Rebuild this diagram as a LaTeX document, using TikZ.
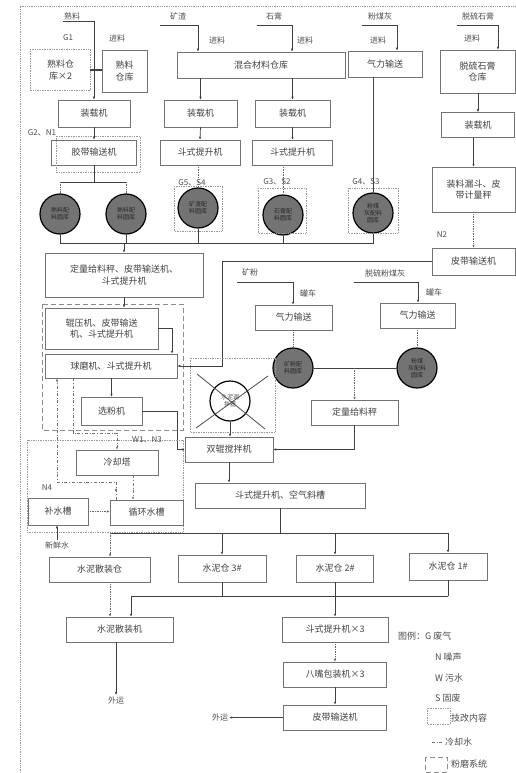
\documentclass[tikz,border=0pt]{standalone}
\usepackage{fontspec}
\setmainfont{Noto Sans CJK SC}
\usetikzlibrary{arrows.meta}

\begin{document}
\begin{tikzpicture}[x=1pt,y=-1pt,
    box/.style={draw=black!55,line width=0.5pt,align=center,inner sep=1pt,
        font=\fontsize{9}{11.5}\selectfont,text=black!75},
    newbox/.style={draw=black!40,densely dotted,line width=0.7pt},
    grind/.style={draw=black!45,dash pattern=on 5pt off 3pt,line width=0.8pt},
    silo/.style={circle,draw=black,line width=1.2pt,fill=black!55,minimum size=40,
        inner sep=0pt,align=center,font=\fontsize{6}{7}\selectfont,text=black!85},
    lbl/.style={font=\fontsize{8}{10}\selectfont,text=black!70,inner sep=1pt},
    flow/.style={draw=black!75,line width=0.7pt},
    arr/.style={flow,-{Latex[length=3pt,width=2.5pt]}},
    dflow/.style={draw=black!60,densely dotted,line width=0.7pt},
    darr/.style={dflow,-{Latex[length=3pt,width=2.5pt]}},
    water/.style={draw=black!55,dash dot,line width=0.6pt},
    warr/.style={water,-{Latex[length=3pt,width=2.5pt]}}]
    \useasboundingbox (0,0) rectangle (516,773);
    \draw[draw=black!40,densely dotted,line width=0.8pt] (20,773) -- (20,6) -- (516,6);

    % raw materials
    \node[box,minimum width=59,minimum height=41,draw=none] (ckA) at (60.5,70) {熟料仓\\库×2};
    \node[box,minimum width=45,minimum height=42] (ckB) at (124.5,71) {熟料\\仓库};
    \node[box,minimum width=168,minimum height=26] (mix) at (261,65) {混合材料仓库};
    \node[box,minimum width=74,minimum height=26] (gas1) at (385,64) {气力输送};
    \node[box,minimum width=75,minimum height=43] (tlsg) at (477.5,71.5) {脱硫石膏\\仓库};
    \draw[newbox] (ckA.south west) rectangle (ckA.north east);

    \node[lbl] (shl) at (72,16) {熟料};
    \node[lbl] (kz) at (178,16) {矿渣};
    \node[lbl] (sg) at (274,16) {石膏};
    \node[lbl] (fmh) at (380,16) {粉煤灰};
    \node[lbl] (tl) at (478,16) {脱硫石膏};
    \node[lbl] at (68,38) {G1};
    \node[lbl] at (117,38) {进料};
    \node[lbl] at (217,40) {进料};
    \node[lbl] at (305,40) {进料};
    \node[lbl] at (378,40) {进料};
    \node[lbl] at (472,38) {进料};
    \coordinate (kzA) at (160,25);
    \coordinate (kzB) at (198,25);
    \coordinate (sgA) at (257,25);
    \coordinate (sgB) at (292,25);
    \coordinate (fmA) at (362,25);
    \coordinate (fmB) at (397,25);
    \coordinate (tlA) at (457,25);
    \coordinate (tlB) at (498,25);

    \node[box,minimum width=72,minimum height=27] (ld1) at (94,113.5) {装载机};
    \node[box,minimum width=73,minimum height=27] (ld2) at (200.5,113.5) {装载机};
    \node[box,minimum width=75,minimum height=27] (ld3) at (292.5,113.5) {装载机};
    \node[box,minimum width=73,minimum height=25] (ld4) at (478,125) {装载机};

    \draw[arr] (shl.south west) -- (shl.south west -| ld1.north) -- (ld1.north);
    \draw[flow,line width=1.2pt] (ckA.east) -- (ckA.east -| ckB.west);
    \draw[arr] (kzA) -- (kzB) -- (kzB |- mix.north);
    \draw[arr] (sgA) -- (sgB) -- (sgB |- mix.north);
    \draw[arr] (fmA) -- (fmB) -- (fmB |- gas1.north);
    \draw[arr] (tlA) -- (tlB) -- (tlB |- tlsg.north);
    \draw[arr] (mix.south -| ld2.north) -- (ld2.north);
    \draw[arr] (mix.south -| ld3.north) -- (ld3.north);
    \draw[arr] (tlsg.south -| ld4.north) -- (ld4.north);

    \node[box,minimum width=85,minimum height=25] (bc) at (94,152.5) {胶带输送机};
    \node[box,minimum width=80,minimum height=25] (el1) at (200,152.5) {斗式提升机};
    \node[box,minimum width=80,minimum height=25] (el2) at (292.5,152.5) {斗式提升机};
    \node[box,minimum width=83,minimum height=45] (hop) at (473.5,189.5) {装料漏斗、皮\\带计量秤};
    \node[box,minimum width=83,minimum height=27] (bc2) at (473.5,261.5) {皮带输送机};
    \node[lbl] at (42,133) {G2、N1};
    \node[lbl] at (442,235) {N2};
    \draw[newbox] (56,136) rectangle (140,172);

    \draw[arr] (ld1.south) -- (bc.north);
    \draw[arr] (ld2.south) -- (el1.north);
    \draw[arr] (ld3.south) -- (el2.north);
    \draw[arr] (ld4.south -| hop.north) -- (hop.north);
    \draw[darr] (hop.south) -- (bc2.north);

    % batching silos
    \node[silo] (c1) at (60,214) {熟料配\\料圆库};
    \node[silo] (c2) at (126,214) {熟料配\\料圆库};
    \node[silo] (c3) at (198,208) {矿渣配\\料圆库};
    \node[silo] (c4) at (283,215) {石膏配\\料圆库};
    \node[silo] (c5) at (373,213) {粉煤\\灰配料\\圆库};
    \node[lbl] at (192,183) {G5、S4};
    \node[lbl] at (277,182) {G3、S2};
    \node[lbl] at (366,182) {G4、S3};
    \draw[newbox] (174,186) rectangle (222,231);
    \draw[newbox] (258,188) rectangle (306,233);
    \draw[newbox] (348,188) rectangle (398,233);

    \coordinate (j1) at (94,182);
    \draw[flow] (bc.south) -- (j1);
    \draw[flow] (c1.north |- j1) -- (c2.north |- j1);
    \draw[dflow] (c1.north |- j1) -- (c1.north);
    \draw[dflow] (c2.north |- j1) -- (c2.north);
    \draw[dflow] (el1.south -| c3.north) -- (c3.north);
    \draw[dflow] (el2.south -| c4.north) -- (c4.north);
    \draw[flow] (gas1.south -| c5.north) -- (c5.north);

    \node[box,minimum width=158,minimum height=44] (feed) at (124,275) {定量给料秤、皮带输送机、\\斗式提升机};
    \coordinate (j2) at (124,243);
    \draw[flow] (c1.south) -- (c1.south |- j2) -- (c5.south |- j2) -- (c5.south);
    \draw[flow] (c2.south) -- (c2.south |- j2);
    \draw[flow] (c3.south) -- (c3.south |- j2);
    \draw[flow] (c4.south) -- (c4.south |- j2);
    \draw[arr] (j2) -- (feed.north);

    % grinding system
    \draw[grind] (42,304) rectangle (183,430);
    \node[box,minimum width=113,minimum height=41] (roll) at (101.5,328.5) {辊压机、皮带输送\\机、斗式提升机};
    \node[box,minimum width=132,minimum height=24] (ball) at (111,366) {球磨机、斗式提升机};
    \node[box,minimum width=61,minimum height=28] (sep) at (111.5,411) {选粉机};
    \coordinate (j4) at (172,330);
    \coordinate (j3) at (222,262);
    \draw[arr] (feed.south) -- (feed.south |- roll.north);
    \draw[arr] (roll.east) -| (j4 |- ball.north);
    \draw[arr] (bc2.west) -- (bc2.west -| j3) -- (j3 |- ball.east) -- (ball.east);
    \draw[arr] (ball.south -| sep.north) -- (sep.north);

    % mineral powder / fly ash
    \node[lbl] (kf) at (250,272) {矿粉};
    \node[lbl] (gt1) at (308,293) {罐车};
    \node[lbl] (fh) at (385,273) {脱硫粉煤灰};
    \node[lbl] (gt2) at (434,292) {罐车};
    \coordinate (kfA) at (237,282);
    \coordinate (kfB) at (293,282);
    \coordinate (fhA) at (354,282);
    \coordinate (fhB) at (418,282);
    \node[box,minimum width=77,minimum height=25] (gas2) at (293.5,317.5) {气力输送};
    \node[box,minimum width=75,minimum height=25] (gas3) at (417.5,315.5) {气力输送};
    \node[silo] (c6) at (293,368) {矿粉配\\料圆库};
    \node[silo] (c7) at (417,368) {粉煤\\灰配料\\圆库};
    \node[box,minimum width=87,minimum height=25] (qf) at (354.5,412.5) {定量给料秤};
    \draw[arr] (kfA) -- (kfB) -- (kfB |- gas2.north);
    \draw[arr] (fhA) -- (fhB) -- (fhB |- gas3.north);
    \draw[dflow] (gas2.south -| c6.north) -- (c6.north);
    \draw[dflow] (gas3.south -| c7.north) -- (c7.north);
    \draw[flow] (c6.east) -- (c7.west);
    \draw[darr] (c6.east -| qf.north) -- (qf.north);

    % removed mixer
    \draw[newbox] (190,358) rectangle (275,432);
    \node[circle,draw=black,line width=1.2pt,minimum size=40,inner sep=0pt,align=center,
        font=\fontsize{6}{7}\selectfont,text=black!70] (xc) at (230,401) {水泥调\\拌器};
    \draw[black!70,line width=0.8pt] (197,374) -- (265,429);
    \draw[black!70,line width=0.8pt] (196,428) -- (268,376);

    \node[box,minimum width=88,minimum height=25] (mixer) at (229,449.5) {双辊搅拌机};
    \node[box,minimum width=170,minimum height=25] (elas) at (280,495.5) {斗式提升机、空气斜槽};
    \draw[arr] (xc.south) -- (xc.south |- mixer.north);
    \draw[arr] (sep.east) -- ++(35,0) |- (mixer.west);
    \draw[arr] (qf.south) |- (mixer.east);
    \draw[arr] (mixer.south) -- (mixer.south |- elas.north);

    % cooling water
    \draw[newbox] (27,440) rectangle (183,532);
    \node[lbl] at (147,440) {W1、N3};
    \node[lbl] at (47,488) {N4};
    \node[box,minimum width=82,minimum height=25] (cool) at (117,462.5) {冷却塔};
    \node[box,minimum width=60,minimum height=27] (bs) at (58,511.5) {补水槽};
    \node[box,minimum width=73,minimum height=25] (xs) at (146.5,512.5) {循环水槽};
    \node[lbl] (fw) at (57,545) {新鲜水};
    \coordinate (w1) at (73,433);
    \coordinate (w2) at (57,482);
    \coordinate (w3) at (116,482);
    \draw[warr] (ball.south -| w1) -- (w1) -| (cool.north);
    \draw[warr] ([xshift=16pt]cool.south) -- ([xshift=16pt]cool.south |- xs.north);
    \draw[warr] (w3 |- xs.north) -- (w3) -- (w2) -- (w2 |- ball.south);
    \draw[warr] (w3 |- xs.north) -- ++(0,-12);
    \draw[darr] (bs.east) -- (bs.east -| xs.west);
    \draw[arr] (fw.north) -- (fw.north |- bs.south);

    % cement silos
    \node[box,minimum width=101,minimum height=25] (s0) at (99.5,569.5) {水泥散装仓};
    \node[box,minimum width=88,minimum height=27] (s3) at (222,568.5) {水泥仓 3\#};
    \node[box,minimum width=77,minimum height=27] (s2) at (335,568.5) {水泥仓 2\#};
    \node[box,minimum width=78,minimum height=27] (s1) at (448,566.5) {水泥仓 1\#};
    \coordinate (d0) at (110,533);
    \coordinate (k0) at (131,596);
    \draw[flow] (elas.south) -- (elas.south |- d0);
    \draw[flow] (d0) -- (d0 -| s1.north);
    \draw[darr] (d0) -- (d0 |- s0.north);
    \draw[arr] (d0 -| s3.north) -- (s3.north);
    \draw[arr] (d0 -| s2.north) -- (s2.north);
    \draw[arr] (d0 -| s1.north) -- (s1.north);

    \node[box,minimum width=107,minimum height=25] (bulk) at (119.5,629.5) {水泥散装机};
    \node[box,minimum width=106,minimum height=25] (el3) at (335,629.5) {斗式提升机×3};
    \node[box,minimum width=103,minimum height=25] (pk) at (335,674.5) {八嘴包装机×3};
    \node[box,minimum width=103,minimum height=25] (bc3) at (335,717.5) {皮带输送机};
    \node[lbl] (out1) at (116,700) {外运};
    \node[lbl] (out2) at (220,717.5) {外运};
    \draw[flow] (s3.south) -- (s3.south |- k0);
    \draw[flow] (s1.south) -- (s1.south |- k0);
    \draw[flow] (k0) -- (k0 -| s1.south);
    \draw[arr] (k0) -- (k0 |- bulk.north);
    \draw[darr] (s0.south -| d0) -- (d0 |- bulk.north);
    \draw[arr] (s2.south) -- (el3.north);
    \draw[arr] (bulk.south -| out1.north) -- (out1.north);
    \draw[darr] (el3.south) -- (pk.north);
    \draw[arr] (pk.south) -- (bc3.north);
    \draw[arr] (bc3.west) -- (out2.east);

    % legend
    \node[lbl,anchor=west,font=\fontsize{9}{11}\selectfont] (lg) at (397,636) {图例：G\ 废气};
    \node[lbl,anchor=west,font=\fontsize{9}{11}\selectfont] (lgN) at (434,657) {N\ 噪声};
    \node[lbl,anchor=west,font=\fontsize{9}{11}\selectfont] (lgW) at (434,678) {W\ 污水};
    \node[lbl,anchor=west,font=\fontsize{9}{11}\selectfont] (lgS) at (434,698) {S\ 固废};
    \draw[newbox] (427,708) rectangle (450,724);
    \node[lbl,anchor=west,font=\fontsize{9}{11}\selectfont] (lgT) at (450,718) {技改内容};
    \draw[water] (432,742) -- (443,742);
    \node[lbl,anchor=west,font=\fontsize{9}{11}\selectfont] (lgC) at (444,742) {冷却水};
    \draw[grind] (425,757) rectangle (447,772);
    \node[lbl,anchor=west,font=\fontsize{9}{11}\selectfont] (lgF) at (450,764) {粉磨系统};
\end{tikzpicture}
\end{document}
